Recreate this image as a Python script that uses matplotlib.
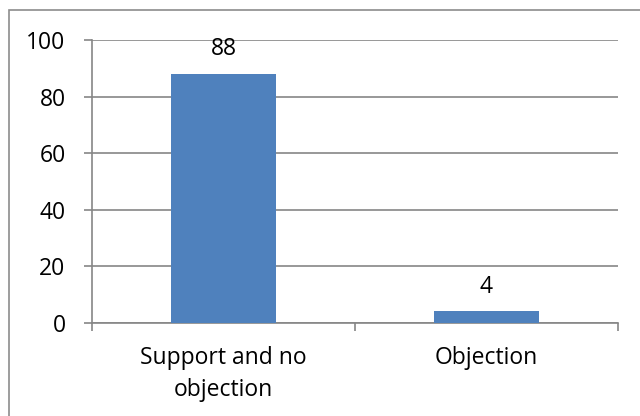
import matplotlib
matplotlib.use("Agg")
import matplotlib.pyplot as plt
from matplotlib.patches import Rectangle

# data
categories = ["Support and no\nobjection", "Objection"]
values = [88, 4]
yticks = [0, 20, 40, 60, 80, 100]

plt.rcParams['font.family'] = ['Open Sans', 'DejaVu Sans']
fs = 16.5

fig = plt.figure(figsize=(6.4, 4.16), dpi=100)
ax = fig.add_axes([92/640, 1 - 322.7/416, (618 - 92)/640, (322.7 - 40)/416])

grey = "#868686"
x = list(range(len(categories)))
bars = ax.bar(x, values, width=0.4, color="#4F81BD", zorder=3)

for xi, v in zip(x, values):
    ax.annotate(str(v), (xi, v), xytext=(0, 13.5), textcoords="offset points",
                ha="center", va="baseline", fontsize=fs, color="black")

ax.set_xlim(-0.5, len(categories) - 0.5)
ax.set_ylim(0, 100)
ax.set_yticks(yticks)
ax.set_yticklabels([str(t) for t in yticks], fontsize=fs)
ax.yaxis.grid(True, color=grey, linewidth=1.2, zorder=0)
ax.set_axisbelow(True)

# category labels between the boundary ticks
ax.set_xticks([-0.5, 0.5, 1.5])
ax.set_xticklabels([])
ax.set_xticks(x, minor=True)
ax.set_xticklabels(categories, minor=True, fontsize=fs, linespacing=1.45)
ax.tick_params(axis="x", which="minor", length=0, pad=16.5)
ax.tick_params(axis="x", which="major", length=6, color=grey, width=1.2)
ax.tick_params(axis="y", length=6, color=grey, width=1.2, pad=13)

for side in ["top", "right"]:
    ax.spines[side].set_visible(False)
for side in ["left", "bottom"]:
    ax.spines[side].set_color(grey)
    ax.spines[side].set_linewidth(1.2)

# outer chart border
fig.patches.append(Rectangle((9/640, -0.05), 1.0, 1 - 10/416 + 0.05,
                             transform=fig.transFigure, fill=False,
                             edgecolor="#8c8c8c", linewidth=1.2))

fig.savefig("out.png", dpi=100)
